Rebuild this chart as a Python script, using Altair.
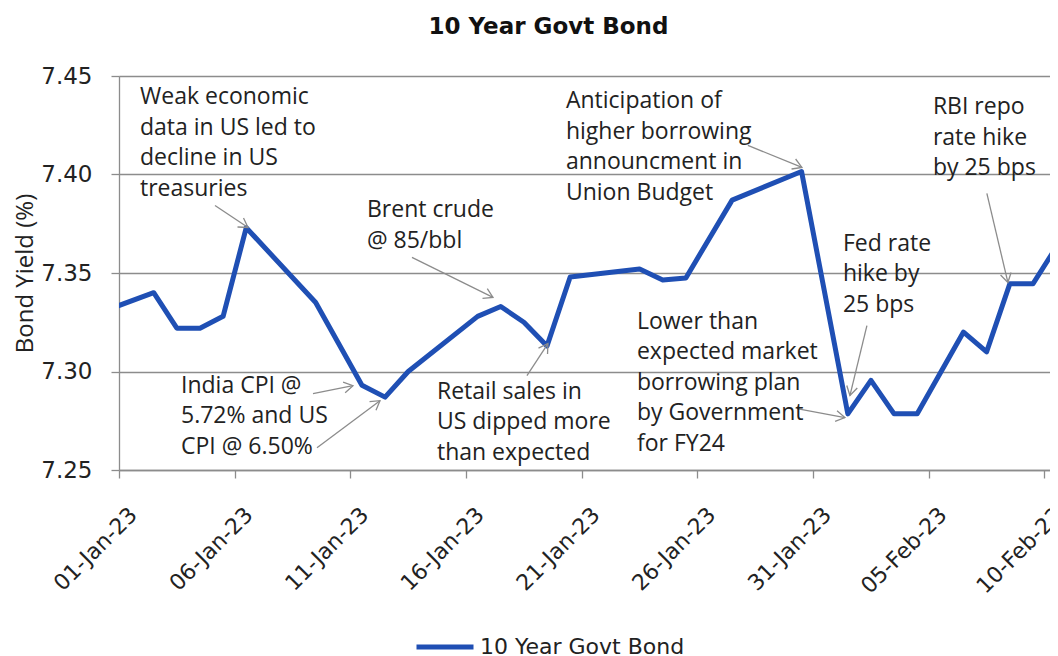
import math
import altair as alt
import pandas as pd

# ---- data ----
series_name = "10 Year Govt Bond"
dates = ["2022-12-30", "2023-01-02", "2023-01-03", "2023-01-04", "2023-01-05", "2023-01-06",
         "2023-01-09", "2023-01-11", "2023-01-12", "2023-01-13",
         "2023-01-16", "2023-01-17", "2023-01-18", "2023-01-19", "2023-01-20",
         "2023-01-23", "2023-01-24", "2023-01-25", "2023-01-27", "2023-01-30",
         "2023-02-01", "2023-02-02", "2023-02-03", "2023-02-04",
         "2023-02-06", "2023-02-07", "2023-02-08", "2023-02-09", "2023-02-10"]
yields = [7.327, 7.340, 7.322, 7.322, 7.328, 7.373,
          7.335, 7.293, 7.287, 7.300,
          7.328, 7.333, 7.325, 7.313, 7.348,
          7.352, 7.3465, 7.3475, 7.387, 7.4015,
          7.2785, 7.2955, 7.2785, 7.2785,
          7.320, 7.310, 7.3445, 7.3445, 7.363]

tick_dates = ["2023-01-01", "2023-01-06", "2023-01-11", "2023-01-16", "2023-01-21",
              "2023-01-26", "2023-01-31", "2023-02-05", "2023-02-10"]
y_ticks = [7.25, 7.30, 7.35, 7.40, 7.45]

ann_text = [
    ["Weak economic", "data in US led to", "decline in US", "treasuries"],
    ["Brent crude", "@ 85/bbl"],
    ["India CPI @", "5.72% and US", "CPI @ 6.50%"],
    ["Retail sales in", "US dipped more", "than expected"],
    ["Anticipation of", "higher borrowing", "announcment in", "Union Budget"],
    ["Lower than", "expected market", "borrowing plan", "by Government", "for FY24"],
    ["Fed rate", "hike by", "25 bps"],
    ["RBI repo", "rate hike", "by 25 bps"],
]
ann_x = ["2023-01-01T21:47", "2023-01-11T17:12", "2023-01-03T16:18", "2023-01-14T17:48",
         "2023-01-20T07:36", "2023-01-23T09:16", "2023-02-01T06:55", "2023-02-05T04:15"]
ann_y = [7.4356, 7.3782, 7.2893, 7.2862, 7.4336, 7.3218, 7.3614, 7.4305]

arrow_x1 = ["2023-01-05T03:35", "2023-01-09T09:13", "2023-01-09T13:22", "2023-01-13T15:53",
            "2023-01-18T15:10", "2023-01-28T04:19", "2023-01-30T07:12", "2023-02-02T07:48",
            "2023-02-07T12:14"]
arrow_y1 = [7.3843, 7.2888, 7.2613, 7.3579, 7.2979, 7.4148, 7.2811, 7.3233, 7.3904]
arrow_x2 = ["2023-01-06T13:48", "2023-01-11T02:41", "2023-01-12T06:42", "2023-01-17T03:55",
            "2023-01-19T12:56", "2023-01-30T12:23", "2023-02-01T08:59", "2023-02-01T14:10",
            "2023-02-08T10:02"]
arrow_y2 = [7.3731, 7.2928, 7.2852, 7.3376, 7.3142, 7.4036, 7.2766, 7.2878, 7.3452]

# ---- layout ----
W, H = 931, 394
x_start = pd.Timestamp("2023-01-01T00:00")
x_end = pd.Timestamp("2023-02-10T05:43")
y_lo, y_hi = 7.25, 7.45
BLUE = "#1f4fb4"
GREY = "#8c8c8c"
TXT = "#222222"


def dt(s):
    t = pd.Timestamp(s)
    return alt.DateTime(year=t.year, month=t.month, date=t.day, hours=t.hour, minutes=t.minute)


line_df = pd.DataFrame({
    "date": [d + "T12:00:00" for d in dates],
    "yield": yields,
    "series": series_name,
})
ann_df = pd.DataFrame({"x": ann_x, "y": ann_y, "lines": ann_text})

days_total = (x_end - x_start) / pd.Timedelta(days=1)
px_day = W / days_total
px_unit = H / (y_hi - y_lo)
angles = []
for a, b, c, d in zip(arrow_x1, arrow_y1, arrow_x2, arrow_y2):
    dx = (pd.Timestamp(c) - pd.Timestamp(a)) / pd.Timedelta(days=1) * px_day
    dy = -(d - b) * px_unit
    angles.append(math.degrees(math.atan2(dy, dx)) % 360)
arr_df = pd.DataFrame({"x1": arrow_x1, "y1": arrow_y1, "x2": arrow_x2, "y2": arrow_y2,
                       "angle": angles})

x_scale = alt.Scale(domain=[dt(x_start.isoformat()), dt(x_end.isoformat())], nice=False)
y_scale = alt.Scale(domain=[y_lo, y_hi], nice=False, zero=False)

x_axis = alt.Axis(
    values=[dt(t) for t in tick_dates], format="%d-%b-%y", title=None,
    labelAngle=315, labelAlign="right", labelBaseline="middle",
    labelFont="DejaVu Sans", labelFontSize=22, labelColor=TXT,
    labelPadding=33, labelOffset=14, labelFlush=False, labelOverlap=False,
    tickSize=8, tickColor=GREY, tickWidth=1.3, domainColor=GREY, domainWidth=1.3, grid=False,
)
y_axis = alt.Axis(
    values=y_ticks, format=".2f", title="Bond Yield (%)",
    labelFont="DejaVu Sans", labelFontSize=23, labelColor=TXT, labelPadding=19,
    tickSize=8, tickColor=GREY, tickWidth=1.3, domainColor=GREY, domainWidth=1.3,
    grid=True, gridColor=GREY, gridWidth=1.3,
    titleFont="Open Sans", titleFontSize=24, titleFontWeight="normal", titleColor=TXT,
    titleX=-87, titleY=197, titleBaseline="alphabetic",
)

line = alt.Chart(line_df).mark_line(strokeWidth=5, clip=True, strokeJoin="round").encode(
    x=alt.X("date:T", scale=x_scale, axis=x_axis),
    y=alt.Y("yield:Q", scale=y_scale, axis=y_axis),
    color=alt.Color("series:N", scale=alt.Scale(range=[BLUE]), legend=alt.Legend(
        orient="none", legendX=295, legendY=540, title=None, symbolType="stroke",
        symbolSize=3249, symbolStrokeWidth=5, labelFont="DejaVu Sans", labelFontSize=22,
        labelColor=TXT, labelOffset=4, padding=0, labelLimit=0,
    )),
)

arrows = alt.Chart(arr_df).mark_rule(color=GREY, strokeWidth=1.3).encode(
    x=alt.X("x1:T", axis=x_axis), y=alt.Y("y1:Q", axis=y_axis),
    x2="x2:T", y2="y2:Q",
)
heads = alt.Chart(arr_df).mark_point(
    shape="M-1,-0.6L0,0L-1,0.6", filled=False, color=GREY, strokeWidth=1.3, size=324, opacity=1,
).encode(
    x=alt.X("x2:T", axis=x_axis), y=alt.Y("y2:Q", axis=y_axis),
    angle=alt.Angle("angle:Q", scale=None),
)
texts = alt.Chart(ann_df).mark_text(
    align="left", baseline="alphabetic", font="Open Sans", fontSize=23,
    lineHeight=30.5, color=TXT,
).encode(
    x=alt.X("x:T", axis=x_axis), y=alt.Y("y:Q", axis=y_axis), text="lines",
)

chart = alt.layer(line, arrows, heads, texts).properties(
    width=W, height=H,
    padding={"left": 111, "top": 68, "right": 0, "bottom": 186},
    autosize=alt.AutoSizeParams(type="none"),
    title=alt.TitleParams(series_name, font="DejaVu Sans", fontSize=23, fontWeight="bold",
                          color="#111111", anchor="middle", dx=-36, baseline="alphabetic",
                          offset=8),
).configure_view(strokeWidth=0).configure(background="white")

chart.save("out.html", embed_options={"renderer": "svg", "actions": False})
